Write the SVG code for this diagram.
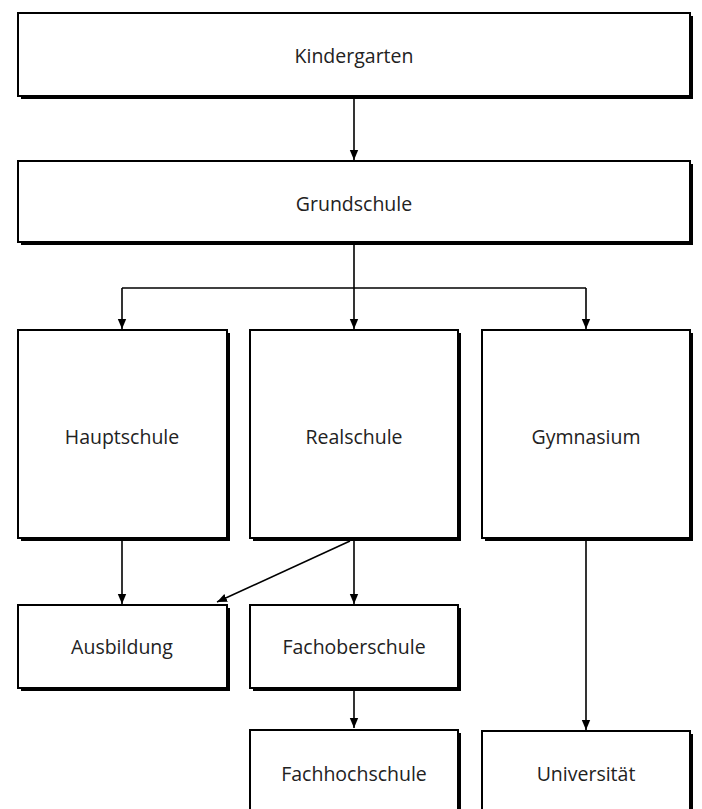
<svg xmlns="http://www.w3.org/2000/svg" width="702" height="809" viewBox="0 0 702 809">
<style>
.sh{fill:#000}
.bx{fill:#fff;stroke:#000;stroke-width:2}
.t{font-family:"Open Sans","Liberation Sans",sans-serif;font-size:19.5px;fill:#222;text-anchor:middle;dominant-baseline:central}
.c{stroke:#000;stroke-width:1.6;fill:none}
</style>
<defs>
<marker id="ah" markerWidth="10" markerHeight="10" viewBox="0 0 10 10" refX="10" refY="5" orient="auto" markerUnits="userSpaceOnUse">
<path d="M0,0.8 L10,5 L0,9.2 Z" fill="#000"/>
</marker>
</defs>
<rect width="702" height="809" fill="#fff"/>
<g id="connectors">
<line class="c" x1="354" y1="97" x2="354" y2="160" marker-end="url(#ah)"/>
<polyline class="c" points="354,243 354,288"/>
<line class="c" x1="122" y1="288" x2="586" y2="288"/>
<line class="c" x1="122" y1="288" x2="122" y2="329" marker-end="url(#ah)"/>
<line class="c" x1="354" y1="288" x2="354" y2="329" marker-end="url(#ah)"/>
<line class="c" x1="586" y1="288" x2="586" y2="329" marker-end="url(#ah)"/>
<line class="c" x1="122" y1="539" x2="122" y2="604" marker-end="url(#ah)"/>
<line class="c" x1="354" y1="539" x2="354" y2="604" marker-end="url(#ah)"/>
<line class="c" x1="350" y1="541" x2="217" y2="602" marker-end="url(#ah)"/>
<line class="c" x1="354" y1="689" x2="354" y2="728" marker-end="url(#ah)"/>
<line class="c" x1="586" y1="541" x2="586" y2="730" marker-end="url(#ah)"/>
</g>
<g id="kindergarten">
<rect class="sh" x="21" y="16" width="672" height="83"/>
<rect class="bx" x="18" y="13" width="672" height="83"/>
<text class="t" x="354" y="55">Kindergarten</text>
</g>
<g id="grundschule">
<rect class="sh" x="21" y="164" width="672" height="81"/>
<rect class="bx" x="18" y="161" width="672" height="81"/>
<text class="t" x="354" y="203">Grundschule</text>
</g>
<g id="hauptschule">
<rect class="sh" x="21" y="333" width="209" height="208"/>
<rect class="bx" x="18" y="330" width="209" height="208"/>
<text class="t" x="122" y="436">Hauptschule</text>
</g>
<g id="realschule">
<rect class="sh" x="253" y="333" width="208" height="208"/>
<rect class="bx" x="250" y="330" width="208" height="208"/>
<text class="t" x="354" y="436">Realschule</text>
</g>
<g id="gymnasium">
<rect class="sh" x="485" y="333" width="208" height="208"/>
<rect class="bx" x="482" y="330" width="208" height="208"/>
<text class="t" x="586" y="436">Gymnasium</text>
</g>
<g id="ausbildung">
<rect class="sh" x="21" y="608" width="209" height="83"/>
<rect class="bx" x="18" y="605" width="209" height="83"/>
<text class="t" x="122" y="646">Ausbildung</text>
</g>
<g id="fachoberschule">
<rect class="sh" x="253" y="608" width="208" height="83"/>
<rect class="bx" x="250" y="605" width="208" height="83"/>
<text class="t" x="354" y="646">Fachoberschule</text>
</g>
<g id="fachhochschule">
<rect class="sh" x="253" y="733" width="208" height="100"/>
<rect class="bx" x="250" y="730" width="208" height="100"/>
<text class="t" x="354" y="773">Fachhochschule</text>
</g>
<g id="universitaet">
<rect class="sh" x="485" y="734" width="208" height="100"/>
<rect class="bx" x="482" y="731" width="208" height="100"/>
<text class="t" x="586" y="773">Universität</text>
</g>
</svg>
